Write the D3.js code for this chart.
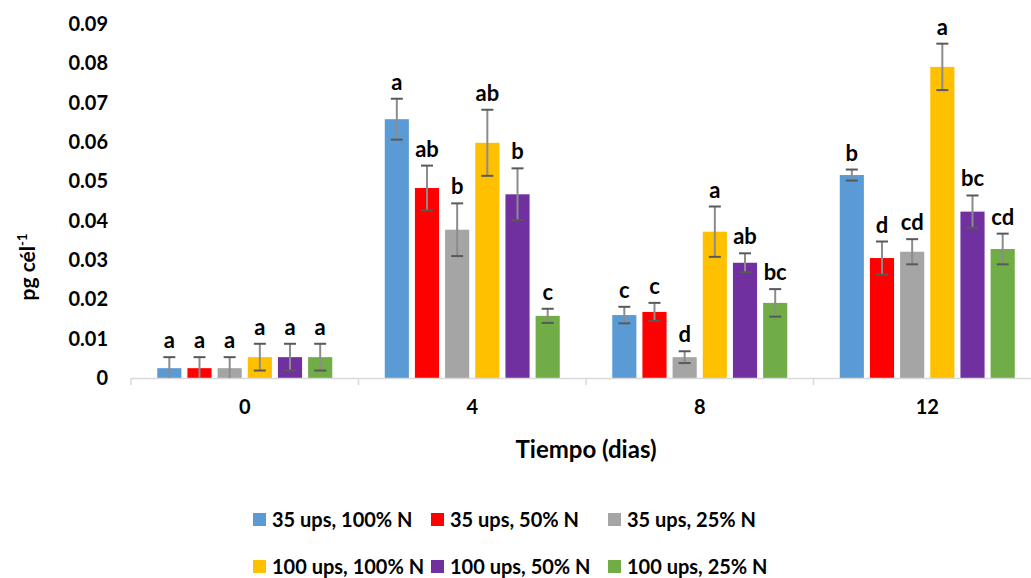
<!DOCTYPE html>
<html>
<head>
<meta charset="utf-8">
<script src="https://cdn.jsdelivr.net/npm/d3@7"></script>
<style>
  html, body { margin: 0; padding: 0; background: #fff; }
  svg { display: block; }
  text { font-family: Lato, "Open Sans", sans-serif; font-weight: bold; fill: #000; }
</style>
</head>
<body>
<svg id="chart" width="1031" height="578"></svg>
<script>
// Days of sampling
const days = ["0", "4", "8", "12"];
const seriesNames = ["35 ups, 100% N", "35 ups, 50% N", "35 ups, 25% N",
                     "100 ups, 100% N", "100 ups, 50% N", "100 ups, 25% N"];
const seriesColors = ["#5b9bd5", "#ff0000", "#a5a5a5", "#ffc000", "#7030a0", "#70ad47"];

// Mean pg per cell, one array per treatment (values at days 0, 4, 8, 12)
const v35_100 = [0.0025, 0.0658, 0.0160, 0.0516];
const v35_50  = [0.0025, 0.0483, 0.0168, 0.0305];
const v35_25  = [0.0025, 0.0377, 0.0053, 0.0321];
const v100_100 = [0.0053, 0.0598, 0.0372, 0.0791];
const v100_50  = [0.0053, 0.0467, 0.0293, 0.0423];
const v100_25  = [0.0053, 0.0158, 0.0191, 0.0328];

// Standard deviations
const e35_100 = [0.0028, 0.0052, 0.0021, 0.0014];
const e35_50  = [0.0028, 0.0057, 0.0023, 0.0042];
const e35_25  = [0.0028, 0.0067, 0.0015, 0.0032];
const e100_100 = [0.0034, 0.0084, 0.0064, 0.0059];
const e100_50  = [0.0034, 0.0066, 0.0024, 0.0041];
const e100_25  = [0.0034, 0.0018, 0.0035, 0.0039];

// Significance letters
const l35_100 = ["a", "a", "c", "b"];
const l35_50  = ["a", "ab", "c", "d"];
const l35_25  = ["a", "b", "d", "cd"];
const l100_100 = ["a", "ab", "a", "a"];
const l100_50  = ["a", "b", "ab", "bc"];
const l100_25  = ["a", "c", "bc", "cd"];

const yTicks = [0, 0.01, 0.02, 0.03, 0.04, 0.05, 0.06, 0.07, 0.08, 0.09];

const values = [v35_100, v35_50, v35_25, v100_100, v100_50, v100_25];
const errors = [e35_100, e35_50, e35_25, e100_100, e100_50, e100_25];
const letters = [l35_100, l35_50, l35_25, l100_100, l100_50, l100_25];

const rows = [];
days.forEach((d, di) => {
  seriesNames.forEach((s, si) => {
    rows.push({ day: d, series: s, si, v: values[si][di], e: errors[si][di], lab: letters[si][di] });
  });
});

const svg = d3.select("#chart");
const plot = { left: 131, right: 1041, top: 24, bottom: 378 };

const x0 = d3.scaleBand().domain(days).range([plot.left, plot.right]).paddingInner(0).paddingOuter(0);
const x1 = d3.scaleBand().domain(seriesNames).range([0, x0.bandwidth()])
  .paddingInner(0.2).paddingOuter(0.87);
const y = d3.scaleLinear().domain([0, 0.09]).range([plot.bottom, plot.top]);

// Y axis labels (no axis line)
const yAxis = svg.append("g").attr("transform", `translate(${plot.left},0)`)
  .call(d3.axisLeft(y).tickValues(yTicks).tickSize(0).tickPadding(23)
    .tickFormat(d => d === 0 ? "0" : d3.format(".2f")(d)));
yAxis.select(".domain").remove();
yAxis.selectAll("text").style("font-size", "20px").style("font-family", "Lato, sans-serif")
  .style("font-weight", "bold").attr("fill", "#000");

// Bars
svg.append("g").selectAll("rect").data(rows).join("rect")
  .attr("x", d => x0(d.day) + x1(d.series))
  .attr("width", x1.bandwidth())
  .attr("y", d => y(d.v))
  .attr("height", d => y(0) - y(d.v))
  .attr("fill", d => seriesColors[d.si]);

// X axis with category separators
const xAxis = svg.append("g").attr("transform", `translate(0,${plot.bottom})`)
  .call(d3.axisBottom(x0).tickSize(0).tickPadding(22));
xAxis.select(".domain").attr("stroke", "#d9d9d9").attr("stroke-width", 1.5);
xAxis.selectAll("text").style("font-size", "20px").style("font-family", "Lato, sans-serif")
  .style("font-weight", "bold").attr("fill", "#000");
svg.append("g").selectAll("line").data(days).join("line")
  .attr("x1", d => x0(d)).attr("x2", d => x0(d))
  .attr("y1", plot.bottom).attr("y2", plot.bottom + 7)
  .attr("stroke", "#d9d9d9").attr("stroke-width", 1.5);

// Error bars
const cap = 6;
const eg = svg.append("g");
rows.forEach(d => {
  const cx = x0(d.day) + x1(d.series) + x1.bandwidth() / 2;
  const yt = y(d.v + d.e), yb = Math.min(y(d.v - d.e), plot.bottom);
  eg.append("line").attr("x1", cx).attr("x2", cx).attr("y1", yt).attr("y2", yb)
    .attr("stroke", "#8c8c8c").attr("stroke-width", 2);
  eg.append("line").attr("x1", cx - cap).attr("x2", cx + cap).attr("y1", yt).attr("y2", yt)
    .attr("stroke", "#595959").attr("stroke-width", 2);
  if (d.v - d.e > 0) {
    eg.append("line").attr("x1", cx - cap).attr("x2", cx + cap).attr("y1", yb).attr("y2", yb)
      .attr("stroke", "#595959").attr("stroke-width", 2);
  }
});

// Significance letters
svg.append("g").selectAll("text").data(rows).join("text")
  .attr("x", d => x0(d.day) + x1(d.series) + x1.bandwidth() / 2)
  .attr("y", d => y(d.v + d.e) - 9)
  .attr("text-anchor", "middle")
  .style("font-size", "22px")
  .text(d => d.lab);

// Axis titles
svg.append("text").attr("transform", "translate(35,267) rotate(-90)")
  .attr("text-anchor", "middle").style("font-size", "21px")
  .call(t => {
    t.append("tspan").text("pg cél");
    t.append("tspan").attr("dy", -8).style("font-size", "13px").text("-1");
  });
svg.append("text").attr("x", 586).attr("y", 458).attr("text-anchor", "middle")
  .style("font-size", "24px").text("Tiempo (dias)");

// Legend
const legendPos = [[253, 513], [431, 513], [608, 513], [253, 560], [431, 560], [608, 560]];
const lg = svg.append("g").selectAll("g").data(seriesNames).join("g")
  .attr("transform", (d, i) => `translate(${legendPos[i][0]},${legendPos[i][1]})`);
lg.append("rect").attr("width", 13).attr("height", 13).attr("fill", (d, i) => seriesColors[i]);
lg.append("text").attr("x", 19).attr("y", 14).style("font-size", "20px").text(d => d);
</script>
</body>
</html>
